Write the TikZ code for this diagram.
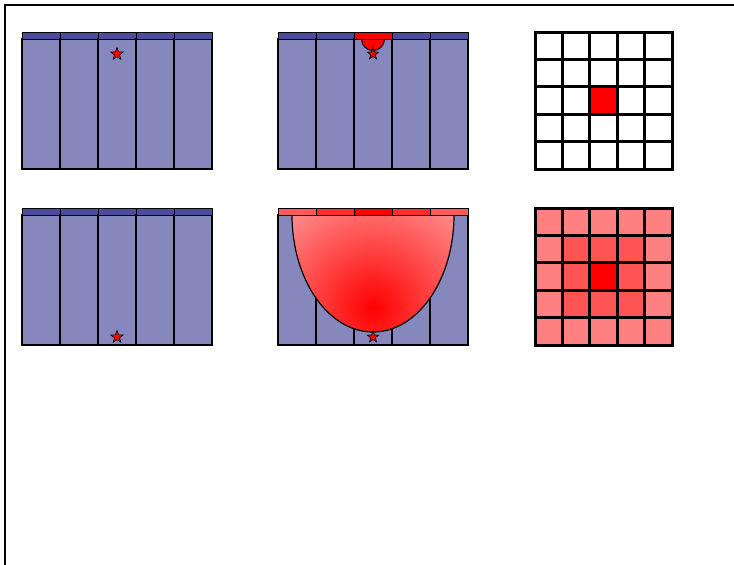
\documentclass[tikz,border=0pt]{standalone}
\usepackage{xcolor}
\usetikzlibrary{shapes.geometric}
\definecolor{colfill}{RGB}{133,135,189}
\definecolor{headfill}{RGB}{74,76,158}
\colorlet{ring0}{red}
\colorlet{ring1}{red!67}
\colorlet{ring2}{red!50}
\tikzset{
  column/.style={draw, line width=1.5pt, fill=colfill},
  header/.style={draw, line width=1pt, fill=headfill},
  cell/.style={draw, line width=3pt, fill=white},
  marker/.style={star, star points=5, star point ratio=2.4, fill=red, draw, line width=0.6pt, minimum size=13pt, inner sep=0pt},
  frame/.style={line width=2pt}
}
\begin{document}
\begin{tikzpicture}[x=1pt, y=-1pt]
  \useasboundingbox (0,0) rectangle (734,565);
  \draw[frame] (5,565) -- (5,5) -- (734,5);

  % column panels
  \foreach \px/\py in {22/32, 278/32, 22/208, 278/208} {
    \foreach \i in {0,...,4} {
      \draw[column] (\px+38*\i,\py+7) rectangle ++(38,130);
      \draw[header] (\px+38*\i,\py) rectangle ++(38,7);
    }
  }

  % top left
  \node[marker] (star1) at (117,54) {};

  % top middle
  \draw[fill=red, line width=1pt] (361.5,39) arc[start angle=180, end angle=0, radius=11.5] -- cycle;
  \draw[header, fill=red] (354,32) rectangle ++(38,7);
  \node[marker, minimum size=12pt] (star2) at (373,54) {};

  % bottom left
  \node[marker] (star4) at (117,337) {};

  % bottom middle
  \begin{scope}
    \clip (292,215) arc[start angle=180, end angle=0, x radius=81, y radius=117] -- cycle;
    \shade[inner color=red, outer color=red!40] (373,308) circle (135);
  \end{scope}
  \draw[line width=1.2pt] (292,215) arc[start angle=180, end angle=0, x radius=81, y radius=117];
  \foreach \i/\c in {0/65, 1/82, 2/100, 3/82, 4/65}
    \draw[header, fill=red!\c] (278+38*\i,208) rectangle ++(38,7);
  \node[marker, minimum size=12pt] (star5) at (373,337) {};

  % grids
  \foreach \i in {0,...,4}
    \foreach \j in {0,...,4} {
      \draw[cell] (535+27.4*\i,32+27.4*\j) rectangle ++(27.4,27.4);
      \pgfmathtruncatemacro\d{max(abs(\i-2),abs(\j-2))}
      \draw[cell, fill=ring\d] (535+27.4*\i,208+27.4*\j) rectangle ++(27.4,27.4);
    }
  \draw[cell, fill=red] (535+27.4*2,32+27.4*2) rectangle ++(27.4,27.4);
\end{tikzpicture}
\end{document}
